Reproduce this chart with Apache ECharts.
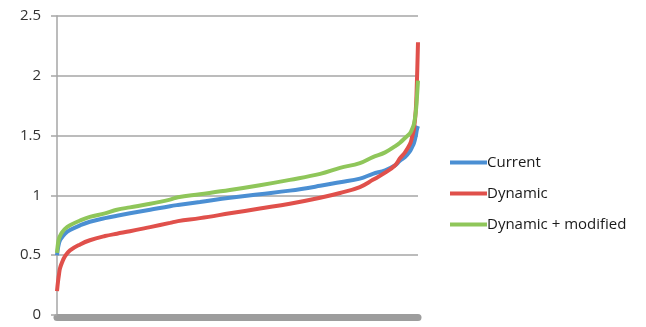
<!DOCTYPE html>
<html><head><meta charset="utf-8">
<script src="https://cdn.jsdelivr.net/npm/echarts@6/dist/echarts.min.js"></script>
<style>html,body{margin:0;padding:0;background:#fff}#c{width:646px;height:327px}</style>
</head><body><div id="c"></div>
<script>
// x position as percent of sorted sample (0..100)
const xPct = [0,0.28,0.55,0.83,1.4,2.2,3.6,6.4,9.1,13.3,16.6,20.2,25.8,31.3,33.5,39.6,47.9,56.2,64.5,72.9,78.4,83.9,87.5,90.9,93.6,95,96.4,97.8,98.3,98.9,99.4,99.7,100];
const current = [0.50,0.56,0.60,0.625,0.65,0.68,0.71,0.75,0.78,0.81,0.83,0.85,0.88,0.91,0.92,0.945,0.98,1.01,1.04,1.08,1.11,1.14,1.18,1.21,1.25,1.29,1.32,1.37,1.40,1.44,1.50,1.55,1.58];
const dynamic = [0.20,0.28,0.34,0.39,0.44,0.49,0.54,0.59,0.625,0.66,0.68,0.70,0.735,0.77,0.785,0.81,0.85,0.89,0.93,0.98,1.02,1.07,1.13,1.19,1.25,1.31,1.36,1.43,1.48,1.56,1.72,1.95,2.28];
const dynamicModified = [0.52,0.60,0.64,0.66,0.69,0.72,0.75,0.79,0.82,0.85,0.88,0.90,0.93,0.965,0.985,1.01,1.045,1.085,1.13,1.18,1.23,1.27,1.32,1.36,1.41,1.44,1.48,1.52,1.55,1.60,1.70,1.82,1.96];
const seriesNames = ['Current','Dynamic','Dynamic + modified'];
const yTicks = [0,0.5,1,1.5,2,2.5];

const pair = arr => arr.map((v,i)=>[xPct[i], v]);
const colors = ['#4b8fd3','#e0504b','#8fc65a'];
const chart = echarts.init(document.getElementById('c'));
chart.setOption({
  animation:false,
  color: colors,
  grid:{left:57,right:228,top:16,bottom:12,containLabel:false},
  legend:{
    orient:'vertical', left:445, top:150,
    icon:'rect', itemWidth:37, itemHeight:4, itemGap:16,
    textStyle:{fontFamily:'Open Sans',fontSize:15,color:'#1a1a1a',padding:[0,0,0,-5]},
    data: seriesNames
  },
  xAxis:{
    type:'value', min:0, max:100,
    axisLabel:{show:false}, axisTick:{show:false}, splitLine:{show:false},
    axisLine:{show:true,onZero:false,lineStyle:{color:'#9d9d9d',width:7}},
    offset:2
  },
  yAxis:{
    type:'value', min:yTicks[0], max:yTicks[yTicks.length-1], interval:0.5,
    axisLine:{show:true,lineStyle:{color:'#a6a6a6',width:1.5}},
    axisTick:{show:true,length:6,lineStyle:{color:'#a6a6a6',width:1.5}},
    splitLine:{lineStyle:{color:'#a6a6a6',width:1.5}},
    axisLabel:{fontFamily:'Open Sans',fontSize:15,color:'#333',margin:16}
  },
  series:[
    {name:seriesNames[0],type:'line',data:pair(current),showSymbol:false,smooth:0.4,lineStyle:{width:4}},
    {name:seriesNames[1],type:'line',data:pair(dynamic),showSymbol:false,smooth:0.4,lineStyle:{width:4}},
    {name:seriesNames[2],type:'line',data:pair(dynamicModified),showSymbol:false,smooth:0.4,lineStyle:{width:4}}
  ]
});
</script></body></html>
